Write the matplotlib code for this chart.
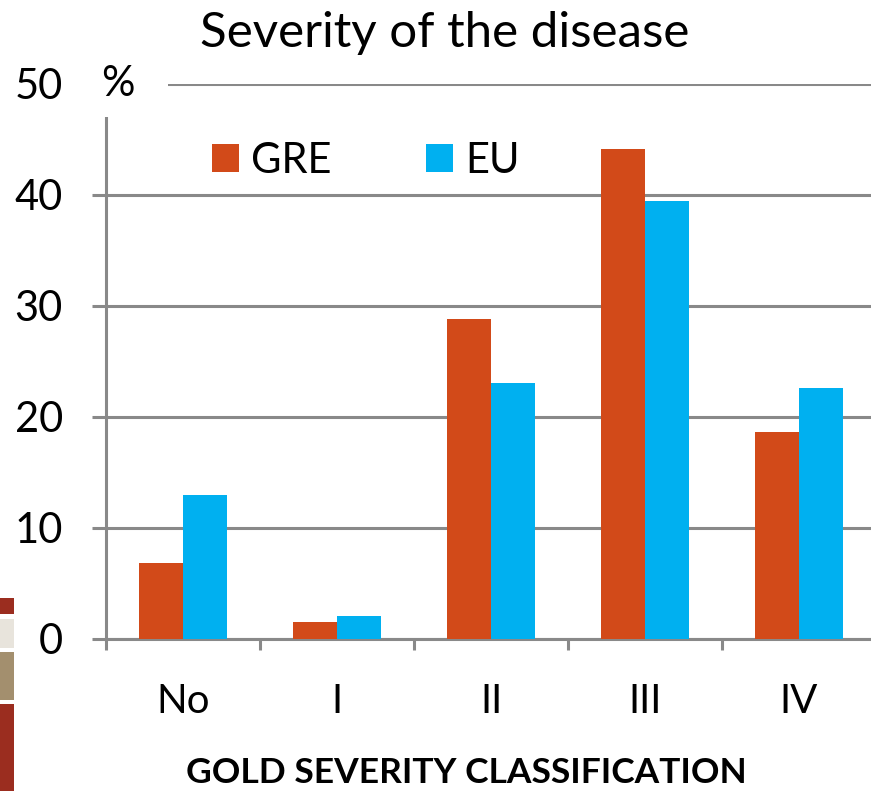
import matplotlib
matplotlib.use("Agg")
import matplotlib.pyplot as plt
from matplotlib.patches import Rectangle
import numpy as np

categories = ["No", "I", "II", "III", "IV"]
gre = [6.8, 1.5, 28.8, 44.1, 18.6]
eu = [13.0, 2.1, 23.0, 39.4, 22.6]
yticks = [0, 10, 20, 30, 40, 50]

plt.rcParams['font.family'] = ['Lato', 'DejaVu Sans']

W, H = 871, 791
fig = plt.figure(figsize=(W / 100, H / 100), dpi=100)
ax = fig.add_axes([106 / W, 152 / H, 770 / W, 555.5 / H])

grid_c = "#898989"
x = np.arange(len(categories))
bw = 0.286
ax.bar(x - bw / 2, gre, bw, color="#D24A19", label="GRE", zorder=3)
ax.bar(x + bw / 2, eu, bw, color="#00B0F0", label="EU", zorder=3)

ax.set_xlim(-0.5, 4.5)
ax.set_ylim(0, 50)
ax.set_yticks(yticks)
ax.yaxis.grid(True, color=grid_c, linewidth=2.2, zorder=0)
ax.set_axisbelow(True)
for s in ["top", "right"]:
    ax.spines[s].set_visible(False)
for s in ["left", "bottom"]:
    ax.spines[s].set_color(grid_c)
    ax.spines[s].set_linewidth(2.2)

ax.tick_params(axis="y", length=10, width=2.2, color=grid_c, pad=21,
               labelsize=30, labelcolor="black")
ax.set_xticks(x)
ax.set_xticklabels(categories)
ax.tick_params(axis="x", which="major", length=0, pad=32, labelsize=29)
ax.set_xticks(np.arange(-0.5, 4.6, 1), minor=True)
ax.tick_params(axis="x", which="minor", length=8, width=2.2, color=grid_c)

leg = ax.legend(loc="upper left", bbox_to_anchor=((195 - 106) / 770, 0.925),
                ncol=2, frameon=False, fontsize=30,
                handlelength=0.65, handleheight=0.65, handletextpad=0.3,
                columnspacing=2.25, borderaxespad=0)

# white cover for "%" label area
fig.patches.append(Rectangle((85 / W, 1 - 117 / H), (168 - 85) / W, (117 - 55) / H,
                             transform=fig.transFigure, facecolor="white",
                             edgecolor="none", zorder=5))
fig.text(118 / W, 1 - 84 / H, "%", fontsize=30, ha="center", va="center", zorder=6)

fig.text(445 / W, 1 - 33 / H, "Severity of the disease", fontsize=35.5,
         ha="center", va="center")
fig.text(466 / W, 1 - 773 / H, "GOLD SEVERITY CLASSIFICATION", fontsize=25.5,
         fontweight="bold", ha="center", va="center")

# decorative strip at left edge
strip = [(598, 614, "#9B2D1F"), (619, 648, "#E8E4DC"), (652, 700, "#A38F6E"),
         (704, 791, "#9B2D1F")]
for y0, y1, c in strip:
    fig.patches.append(Rectangle((0, 1 - y1 / H), 14 / W, (y1 - y0) / H,
                                 transform=fig.transFigure, facecolor=c,
                                 edgecolor="none"))

fig.savefig("out.png", dpi=100)
